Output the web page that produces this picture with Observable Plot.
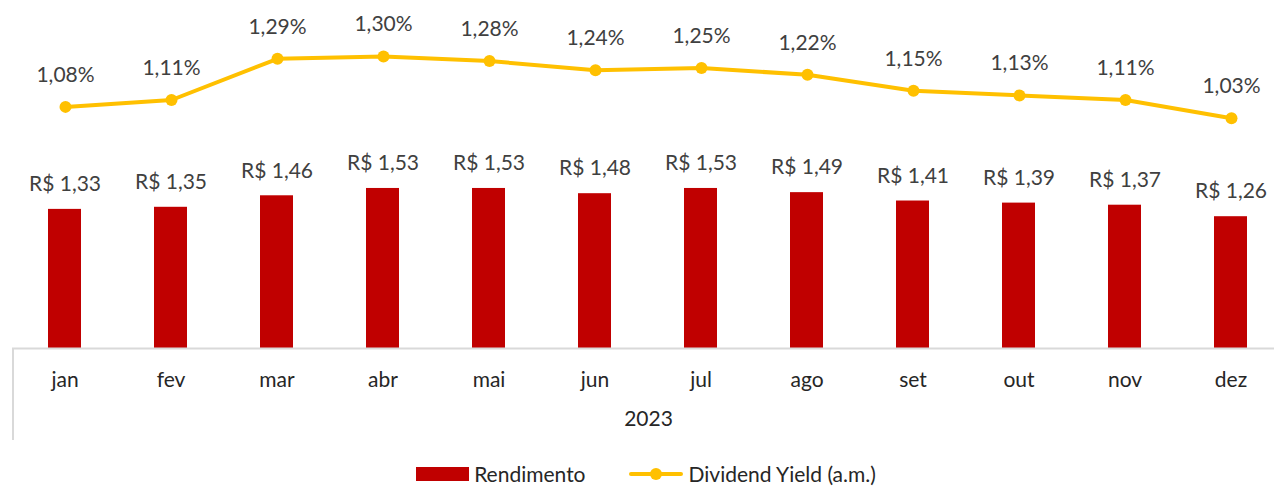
<!DOCTYPE html>
<html>
<head>
<meta charset="utf-8">
<script src="https://cdn.jsdelivr.net/npm/d3@7"></script>
<script src="https://cdn.jsdelivr.net/npm/@observablehq/plot@0.6"></script>
<style>
  html, body { margin: 0; padding: 0; background: #fff; }
  #wrap { position: relative; width: 1274px; height: 487px; font-family: Lato, "Open Sans", sans-serif; }
  #wrap svg { position: absolute; left: 0; top: 0; overflow: visible; }
  #legend { position: absolute; left: 0; top: 461px; width: 1274px; box-sizing: border-box; padding-left: 18px; display: flex; justify-content: center; align-items: center; font-size: 21px; line-height: 1.2; color: #262626; }
  .item { display: flex; align-items: center; }
</style>
</head>
<body>
<div id="wrap"></div>
<script>
const months = ["jan","fev","mar","abr","mai","jun","jul","ago","set","out","nov","dez"];
const rendimento = [1.33,1.35,1.46,1.53,1.53,1.48,1.53,1.49,1.41,1.39,1.37,1.26];
const dividendYield = [1.08,1.11,1.29,1.30,1.28,1.24,1.25,1.22,1.15,1.13,1.11,1.03];
const yearLabel = "2023";
const seriesNames = ["Rendimento", "Dividend Yield (a.m.)"];

const RED = "#C00000", GOLD = "#FFC000", TXT = "#404040", AX = "#D9D9D9";
const fmt = v => v.toFixed(2).replace(".", ",");

const bars = months.map((m, i) => ({month: m, value: rendimento[i]}));
const line = months.map((m, i) => ({month: m, value: dividendYield[i]}));

const W = 1274, H = 455;
const xOpts = {domain: months, range: [11, 1284], paddingInner: 0.69, paddingOuter: 0.345, axis: null};

const p1 = Plot.plot({
  width: W, height: H,
  marginLeft: 12, marginRight: 0, marginTop: 0, marginBottom: 107,
  style: {fontFamily: "Lato, 'Open Sans', sans-serif", background: "transparent", overflow: "visible"},
  x: xOpts,
  y: {domain: [0, 1], range: [348, 243.4], axis: null},
  marks: [
    Plot.barY(bars, {x: "month", y: "value", fill: RED}),
    Plot.ruleY([0], {stroke: AX, strokeWidth: 2}),
    Plot.ruleX(["jan"], {y1: 0, y2: -0.88, dx: -52, stroke: AX, strokeWidth: 2}),
    Plot.text(bars, {x: "month", y: "value", text: d => "R$ " + fmt(d.value), dy: -25, fill: TXT, fontSize: 21}),
    Plot.text(bars, {x: "month", y: 0, text: "month", dy: 32, fill: "#262626", fontSize: 21}),
    Plot.text([yearLabel], {frameAnchor: "bottom", dy: 77, dx: 5, fill: "#262626", fontSize: 21})
  ]
});

const p2 = Plot.plot({
  width: W, height: H,
  marginLeft: 12, marginRight: 0, marginTop: 0, marginBottom: 107,
  style: {fontFamily: "Lato, 'Open Sans', sans-serif", background: "transparent", overflow: "visible"},
  x: xOpts,
  y: {domain: [0, 1], range: [353.7, 124.7], axis: null},
  marks: [
    Plot.lineY(line, {x: "month", y: "value", stroke: GOLD, strokeWidth: 4}),
    Plot.dot(line, {x: "month", y: "value", fill: GOLD, r: 6}),
    Plot.text(line, {x: "month", y: "value", text: d => fmt(d.value) + "%", dy: -32, fill: TXT, fontSize: 21})
  ]
});

const wrap = document.getElementById("wrap");
wrap.appendChild(p1);
wrap.appendChild(p2);

const legend = document.createElement("div");
legend.id = "legend";
legend.innerHTML = `
  <div class="item"><svg width="53" height="14" style="position:static"><rect width="53" height="14" fill="${RED}"/></svg><span style="margin-left:5px">${seriesNames[0]}</span></div>
  <div class="item" style="margin-left:42px"><svg width="56" height="14" style="position:static"><line x1="3" x2="53" y1="7" y2="7" stroke="${GOLD}" stroke-width="4" stroke-linecap="round"/><circle cx="28" cy="7" r="6" fill="${GOLD}"/></svg><span style="margin-left:5px">${seriesNames[1]}</span></div>`;
wrap.appendChild(legend);
</script>
</body>
</html>
